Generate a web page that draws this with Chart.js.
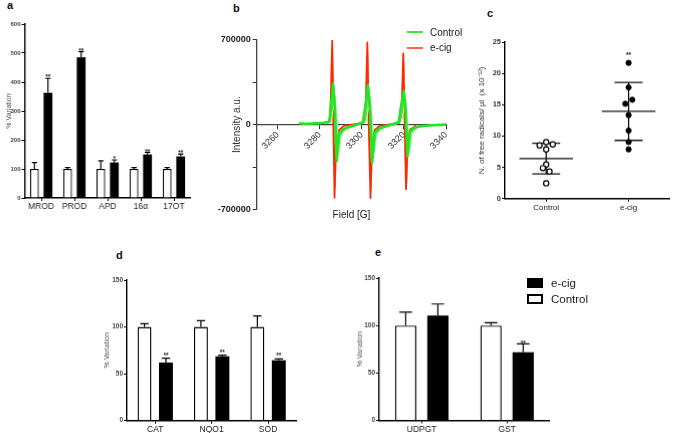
<!DOCTYPE html>
<html><head><meta charset="utf-8">
<script src="https://cdn.jsdelivr.net/npm/chart.js@4.4.1/dist/chart.umd.min.js"></script>
<style>
html,body{margin:0;padding:0;background:#fff;width:675px;height:433px;overflow:hidden;position:relative;font-family:'Liberation Sans',Arial,sans-serif;}
.box{position:absolute;}
.box canvas{display:block;}
.lbl{position:absolute;font-weight:bold;font-size:11px;line-height:11px;color:#111;}
.txt{position:absolute;color:#222;white-space:nowrap;line-height:1;}
.sw{position:absolute;box-sizing:border-box;}
</style></head><body>

<div class="lbl" style="left:7px;top:0px">a</div>
<div class="lbl" style="left:233px;top:3px">b</div>
<div class="lbl" style="left:487px;top:8px">c</div>
<div class="lbl" style="left:116px;top:250px">d</div>
<div class="lbl" style="left:375px;top:247px">e</div>

<div class="box" id="boxA"><canvas id="chartA"></canvas></div>
<div class="box" id="boxB"><canvas id="chartB"></canvas></div>
<div class="box" id="boxC"><canvas id="chartC"></canvas></div>
<div class="box" id="boxD"><canvas id="chartD"></canvas></div>
<div class="box" id="boxE"><canvas id="chartE"></canvas></div>

<!-- legend b -->
<div class="sw" style="left:407px;top:31px;width:16px;height:2px;background:#3ee83e"></div>
<div class="sw" style="left:407px;top:47px;width:16px;height:1.5px;background:#ff6a4d"></div>
<div class="txt" style="left:430px;top:28px;font-size:10px">Control</div>
<div class="txt" style="left:430px;top:43px;font-size:10px">e-cig</div>
<div class="txt" style="left:351.5px;top:210px;font-size:10px;transform:translateX(-50%)">Field [G]</div>

<!-- legend d/e -->
<div class="sw" style="left:527px;top:278px;width:16px;height:10px;background:#000"></div>
<div class="sw" style="left:527px;top:294px;width:16px;height:10px;background:#fff;border:2px solid #000"></div>
<div class="txt" style="left:551px;top:278px;font-size:11.5px">e-cig</div>
<div class="txt" style="left:551px;top:293.5px;font-size:11.5px">Control</div>

<script>
// ---------- DATA ----------
// panel a
const aCategories = ['MROD', 'PROD', 'APD', '16α', '17OT'];
const aControl    = [100, 100, 100, 100, 100];
const aControlErr = [22, 5, 28, 5, 5];
const aEcig       = [363, 485, 122, 150, 143];
const aEcigErr    = [50, 20, 9, 7, 8];
const aEcigStars  = ['**', '**', '*', '**', '**'];

// panel b (EPR spectra)  field [G] / intensity a.u.
const bFieldTicks = [3260, 3280, 3300, 3320, 3340];
const ctrlField1 = [3270.5, 3274, 3278, 3282, 3284.6, 3285.4, 3286.3, 3287.1, 3288.0, 3289.0, 3291, 3294, 3297.5, 3300.5, 3301.8, 3302.9, 3303.9, 3304.9, 3306, 3308, 3311, 3315, 3317.5, 3318.6, 3319.9, 3320.8, 3321.7, 3322.7, 3324.5, 3328, 3333, 3340];
const ctrlInt1   = [10000, 8000, 12000, 15000, 30000, 180000, 335000, 150000, -300000, -80000, -40000, -20000, 0, 20000, 170000, 325000, 120000, -310000, -70000, -35000, -15000, 5000, 20000, 150000, 275000, 100000, -260000, -60000, -30000, -12000, -5000, 0];
const ctrlField2 = [3272, 3280, 3284.8, 3285.9, 3286.8, 3287.6, 3288.5, 3289.6, 3292, 3298, 3301.2, 3302.4, 3303.4, 3304.3, 3305.3, 3306.6, 3309, 3318, 3319.2, 3320.4, 3321.2, 3322.2, 3323.3, 3326, 3338];
const ctrlInt2   = [5000, 10000, 20000, 160000, 290000, 60000, -260000, -90000, -35000, 0, 20000, 150000, 280000, 50000, -270000, -80000, -30000, 20000, 140000, 250000, 40000, -240000, -70000, -20000, 0];
const ctrlField3 = [3276, 3285.3, 3286.5, 3287.4, 3288.3, 3289.2, 3290.4, 3293, 3301.8, 3303.1, 3304, 3305, 3305.9, 3307.3, 3310, 3318.6, 3319.9, 3321, 3321.9, 3322.8, 3324, 3327];
const ctrlInt3   = [8000, 20000, 140000, 240000, 0, -220000, -70000, -20000, 20000, 130000, 230000, 0, -230000, -60000, -20000, 20000, 120000, 210000, 0, -200000, -60000, -15000];
const ecigField1 = [3283.8, 3285.0, 3285.9, 3286.4, 3287.0, 3287.6, 3288.8, 3291.5, 3300.6, 3301.7, 3302.6, 3303.2, 3304.1, 3304.8, 3306, 3308.5, 3317.8, 3318.8, 3319.7, 3320.3, 3321.0, 3321.7, 3323, 3325.5];
const ecigInt1   = [15000, 60000, 690000, 50000, -600000, -160000, -50000, -10000, 15000, 60000, 675000, 40000, -603000, -150000, -45000, -10000, 15000, 60000, 586000, 30000, -530000, -130000, -40000, -10000];
const ecigField2 = [3284.2, 3285.4, 3286.1, 3286.7, 3287.3, 3288.0, 3289.5, 3301.0, 3302.1, 3302.8, 3303.5, 3304.3, 3305.1, 3306.5, 3318.2, 3319.2, 3319.9, 3320.6, 3321.3, 3322.1, 3323.5];
const ecigInt2   = [15000, 80000, 560000, 30000, -520000, -120000, -40000, 15000, 80000, 590000, 20000, -540000, -110000, -40000, 15000, 70000, 500000, 20000, -480000, -100000, -35000];

// panel c
const cCategories = ['Control', 'e-cig'];
const cControl = [8.5, 9.04, 8.67, 7.87, 5.46, 4.87, 4.34, 2.46];
const cEcig    = [21.68, 17.77, 15.15, 15.79, 13.33, 10.87, 9.04, 7.87];
const cControlJitter = [-0.08, 0, 0.08, 0, 0, -0.04, 0.04, 0];
const cEcigJitter    = [0, 0, -0.04, 0.045, 0, 0, 0, 0];
const cEcigStar = '**';

// panel d
const dCategories = ['CAT', 'NQO1', 'SOD'];
const dControl    = [100, 100, 100];
const dControlErr = [3.5, 6.7, 11.7];
const dEcig       = [62, 68.7, 64.4];
const dEcigErr    = [4.6, 1.2, 1.5];
const dEcigStars  = ['**', '**', '**'];

// panel e
const eCategories = ['UDPGT', 'GST'];
const eControl    = [100, 100];
const eControlErr = [14, 3];
const eEcig       = [110.4, 71.8];
const eEcigErr    = [12.3, 8.8];
const eEcigStars  = ['', '**'];

// ---------- SETUP ----------
const FONT = "'Liberation Sans', Arial, sans-serif";
Chart.defaults.font.family = FONT;
Chart.defaults.color = '#222';
Chart.defaults.animation = false;
Chart.defaults.plugins.legend.display = false;
Chart.defaults.plugins.tooltip.enabled = false;

function place(id, L, T, R, B, yW, xH, padT, padR, padB) {
  const el = document.getElementById(id);
  el.style.left = (L - yW) + 'px';
  el.style.top = (T - padT) + 'px';
  el.style.width = (R - L + yW + padR) + 'px';
  el.style.height = (B - T + padT + xH + padB) + 'px';
}

const errPlugin = {
  id: 'errbars',
  afterDatasetsDraw(chart, args, opts) {
    if (!opts || !opts.errors) return;
    const ctx = chart.ctx, ys = chart.scales.y;
    ctx.save();
    chart.data.datasets.forEach((ds, di) => {
      const meta = chart.getDatasetMeta(di);
      const errs = opts.errors[di] || [];
      const stars = (opts.stars && opts.stars[di]) || [];
      meta.data.forEach((el, j) => {
        const v = ds.data[j], e = errs[j] || 0;
        const yTop = ys.getPixelForValue(v), yE = ys.getPixelForValue(v + e);
        const half = el.width * 0.3;
        ctx.strokeStyle = '#000';
        ctx.lineWidth = opts.lineWidth || 1.2;
        ctx.beginPath();
        ctx.moveTo(el.x, yTop); ctx.lineTo(el.x, yE);
        ctx.moveTo(el.x - half, yE); ctx.lineTo(el.x + half, yE);
        ctx.stroke();
        if (stars[j]) {
          ctx.fillStyle = '#222';
          ctx.font = 'bold ' + opts.starSize + 'px ' + FONT;
          ctx.textAlign = 'center';
          ctx.textBaseline = 'alphabetic';
          ctx.fillText(stars[j], el.x, yE - opts.starGap + opts.starSize * 0.55);
        }
      });
    });
    ctx.restore();
  }
};

function barChart(canvasId, cats, ctrl, ctrlErr, ecig, ecigErr, stars, yMax, yStep, g) {
  return new Chart(document.getElementById(canvasId), {
    type: 'bar',
    data: {
      labels: cats,
      datasets: [
        { label: 'Control', data: ctrl, backgroundColor: '#fff', borderColor: '#000', borderWidth: g.bw,
          categoryPercentage: g.cp, barPercentage: g.bp },
        { label: 'e-cig', data: ecig, backgroundColor: '#000', borderColor: '#000', borderWidth: 0,
          categoryPercentage: g.cp, barPercentage: g.bp }
      ]
    },
    options: {
      responsive: true, maintainAspectRatio: false,
      layout: { padding: { left: 0, top: g.padT, right: g.padR, bottom: 0 } },
      scales: {
        x: {
          grid: { display: true, drawOnChartArea: false, offset: false, tickLength: 3, color: '#000', lineWidth: 1 },
          border: { display: true, color: '#000', width: 1.4 },
          ticks: { font: { size: g.xFont }, color: '#222', padding: 1, maxRotation: 0, autoSkip: false },
          afterFit: s => { s.height = g.xH; }
        },
        y: {
          min: 0, max: yMax,
          ticks: { stepSize: yStep, font: { size: g.yFont, weight: 'bold' }, color: '#444', padding: 1 },
          grid: { display: true, drawOnChartArea: false, tickLength: 3, color: '#000', lineWidth: 1 },
          border: { display: true, color: '#000', width: 1.4 },
          title: { display: true, text: '% Variation', color: '#555', font: { size: 7 }, padding: { top: g.tPad, bottom: 0 } },
          afterFit: s => { s.width = g.yW; }
        }
      },
      plugins: {
        errbars: { errors: [ctrlErr, ecigErr], stars: [[], stars], starSize: g.starSize, starGap: g.starGap, lineWidth: 1.2 }
      }
    },
    plugins: [errPlugin]
  });
}

// ---------- PANEL A ----------
const gA = { L: 24.5, T: 24, R: 189.5, B: 198, yW: 24.5, xH: 14, padT: 6, padR: 4,
  cp: 0.815, bp: 0.65, bw: 1.3, xFont: 8.5, yFont: 6, tPad: 4.8, starSize: 6.5, starGap: 2.5 };
place('boxA', gA.L, gA.T, gA.R, gA.B, gA.yW, gA.xH, gA.padT, gA.padR, 0);
barChart('chartA', aCategories, aControl, aControlErr, aEcig, aEcigErr, aEcigStars, 600, 100, gA);

// ---------- PANEL D ----------
const gD = { L: 126.7, T: 280, R: 296, B: 419.7, yW: 30, xH: 13, padT: 5, padR: 3,
  cp: 0.76, bp: 0.65, bw: 1.4, xFont: 8.5, yFont: 6.5, tPad: 6, starSize: 6.5, starGap: 4.5 };
place('boxD', gD.L, gD.T, gD.R, gD.B, gD.yW, gD.xH, gD.padT, gD.padR, 0);
barChart('chartD', dCategories, dControl, dControlErr, dEcig, dEcigErr, dEcigStars, 150, 50, gD);

// ---------- PANEL E ----------
const gE = { L: 379.3, T: 278.3, R: 549, B: 419.7, yW: 30, xH: 13, padT: 5, padR: 3,
  cp: 0.755, bp: 0.66, bw: 1.4, xFont: 8.5, yFont: 6.5, tPad: 6.5, starSize: 6.5, starGap: 1.5 };
place('boxE', gE.L, gE.T, gE.R, gE.B, gE.yW, gE.xH, gE.padT, gE.padR, 0);
barChart('chartE', eCategories, eControl, eControlErr, eEcig, eEcigErr, eEcigStars, 150, 50, gE);

// ---------- PANEL B ----------
const gB = { L: 256.7, T: 37.7, R: 446, B: 211, yW: 46.7, padT: 6, padR: 12, padB: 6 };
place('boxB', gB.L, gB.T, gB.R, gB.B, gB.yW, 0, gB.padT, gB.padR, gB.padB);
function pts(xs, ys) { return xs.map((x, i) => ({ x: x, y: ys[i] })); }
const lineDs = (label, xs, ys, color, w) => ({
  label, data: pts(xs, ys), borderColor: color, borderWidth: w, pointRadius: 0,
  tension: 0, fill: false, borderJoinStyle: 'round', borderCapStyle: 'round'
});
new Chart(document.getElementById('chartB'), {
  type: 'line',
  data: {
    datasets: [
      lineDs('Control', ctrlField1, ctrlInt1, '#22e622', 2.6),
      lineDs('Control', ctrlField2, ctrlInt2, '#5bef5b', 1.5),
      lineDs('Control', ctrlField3, ctrlInt3, '#a8f4a8', 1.2),
      lineDs('e-cig', ecigField1, ecigInt1, '#ff2a00', 1.8),
      lineDs('e-cig', ecigField2, ecigInt2, '#ff7a60', 1.2)
    ]
  },
  options: {
    responsive: true, maintainAspectRatio: false,
    layout: { padding: { left: 0, top: gB.padT, right: gB.padR, bottom: gB.padB } },
    scales: {
      x: {
        type: 'linear', min: 3250, max: 3340, position: { y: 0 },
        afterBuildTicks: s => { s.ticks = bFieldTicks.map(v => ({ value: v })); },
        ticks: { minRotation: 45, maxRotation: 45, font: { size: 9 }, color: '#333', padding: 1,
          callback: v => String(v) },
        grid: { display: true, drawOnChartArea: false, tickLength: 4, color: '#333', lineWidth: 1 },
        border: { display: true, color: '#444', width: 1.3 }
      },
      y: {
        min: -700000, max: 700000,
        ticks: { stepSize: 350000, font: { size: 9, weight: 'bold' }, color: '#222', padding: 2,
          callback: v => (Math.abs(v) === 350000 ? '' : String(v)) },
        grid: { display: true, drawOnChartArea: false, tickLength: 4, color: '#333', lineWidth: 1 },
        border: { display: true, color: '#444', width: 1.3 },
        title: { display: true, text: 'Intensity a.u.', color: '#333', font: { size: 10 }, padding: { top: 21.7, bottom: 0 } },
        afterFit: s => { s.width = gB.yW; }
      }
    }
  }
});

// ---------- PANEL C ----------
const gC = { L: 505, T: 42.3, R: 673, B: 198, yW: 36, xH: 16, padT: 6, padR: 2 };
place('boxC', gC.L, gC.T, gC.R, gC.B, gC.yW, gC.xH, gC.padT, gC.padR, 0);
const meanSdPlugin = {
  id: 'meansd',
  beforeDatasetsDraw(chart, args, opts) {
    const ctx = chart.ctx, xs = chart.scales.x, ys = chart.scales.y;
    ctx.save();
    ctx.strokeStyle = '#111';
    ctx.lineWidth = 1.3;
    opts.groups.forEach((vals, gi) => {
      const n = vals.length;
      const mean = vals.reduce((s, v) => s + v, 0) / n;
      const sd = Math.sqrt(vals.reduce((s, v) => s + (v - mean) * (v - mean), 0) / (n - 1));
      const xc = gi + 1;
      const yM = ys.getPixelForValue(mean), yH = ys.getPixelForValue(mean + sd), yL = ys.getPixelForValue(mean - sd);
      const mL = xs.getPixelForValue(xc - opts.meanHalf), mR = xs.getPixelForValue(xc + opts.meanHalf);
      const sL = xs.getPixelForValue(xc - opts.sdHalf), sR = xs.getPixelForValue(xc + opts.sdHalf);
      const xp = xs.getPixelForValue(xc);
      ctx.beginPath();
      ctx.moveTo(mL, yM); ctx.lineTo(mR, yM);
      ctx.moveTo(sL, yH); ctx.lineTo(sR, yH);
      ctx.moveTo(sL, yL); ctx.lineTo(sR, yL);
      ctx.moveTo(xp, yH); ctx.lineTo(xp, yL);
      ctx.stroke();
    });
    ctx.restore();
  },
  afterDatasetsDraw(chart, args, opts) {
    const ctx = chart.ctx, xs = chart.scales.x, ys = chart.scales.y;
    const vals = opts.groups[1];
    const top = Math.max.apply(null, vals);
    ctx.save();
    ctx.fillStyle = '#222';
    ctx.font = 'bold 7px ' + FONT;
    ctx.textAlign = 'center';
    ctx.textBaseline = 'alphabetic';
    ctx.fillText(opts.star, xs.getPixelForValue(2), ys.getPixelForValue(top) - 6);
    ctx.restore();
  }
};
new Chart(document.getElementById('chartC'), {
  type: 'scatter',
  data: {
    datasets: [
      { label: 'Control', data: cControl.map((v, i) => ({ x: 1 + cControlJitter[i], y: v })),
        pointRadius: 2.6, pointBackgroundColor: '#fff', pointBorderColor: '#000', pointBorderWidth: 1.2 },
      { label: 'e-cig', data: cEcig.map((v, i) => ({ x: 2 + cEcigJitter[i], y: v })),
        pointRadius: 2.6, pointBackgroundColor: '#000', pointBorderColor: '#000', pointBorderWidth: 1 }
    ]
  },
  options: {
    responsive: true, maintainAspectRatio: false,
    layout: { padding: { left: 0, top: gC.padT, right: gC.padR, bottom: 0 } },
    scales: {
      x: {
        type: 'linear', min: 0.5, max: 2.5,
        afterBuildTicks: s => { s.ticks = [{ value: 1 }, { value: 2 }]; },
        ticks: { font: { size: 8 }, color: '#222', padding: 1, callback: v => cCategories[Math.round(v) - 1] },
        grid: { display: true, drawOnChartArea: false, tickLength: 3, color: '#000', lineWidth: 1 },
        border: { display: true, color: '#000', width: 1.4 },
        afterFit: s => { s.height = gC.xH; }
      },
      y: {
        min: 0, max: 25,
        ticks: { stepSize: 5, font: { size: 7.5, weight: 'bold' }, color: '#333', padding: 1 },
        grid: { display: true, drawOnChartArea: false, tickLength: 3, color: '#000', lineWidth: 1 },
        border: { display: true, color: '#000', width: 1.4 },
        title: { display: true, text: 'N. of free radicals/ µl  (x 10⁻¹²)', color: '#333', font: { size: 8 }, padding: { top: 7.9, bottom: 0 } },
        afterFit: s => { s.width = gC.yW; }
      }
    },
    plugins: {
      meansd: { groups: [cControl, cEcig], meanHalf: 0.325, sdHalf: 0.17, star: cEcigStar }
    }
  },
  plugins: [meanSdPlugin]
});
</script>
</body></html>
